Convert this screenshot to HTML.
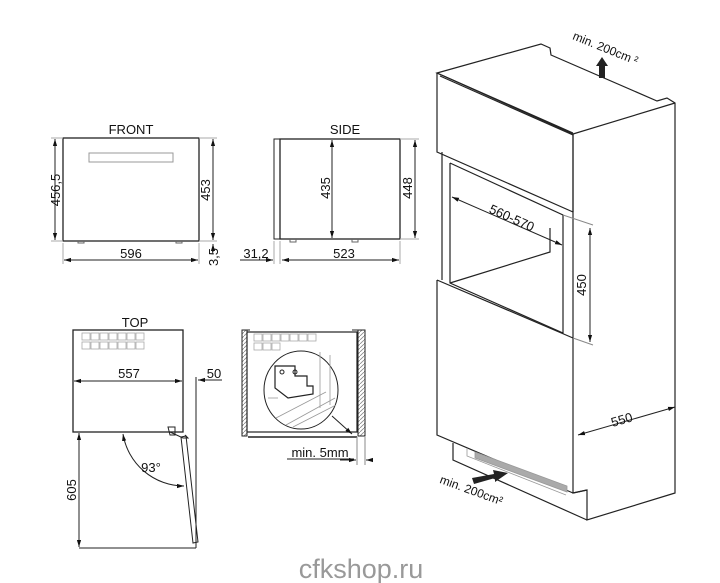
<!DOCTYPE html>
<html><head><meta charset="utf-8"><style>
html,body{margin:0;padding:0;background:#fff;}
svg{display:block;}
text{font-family:"Liberation Sans",Arial,sans-serif;fill:#111;}
</style></head><body>
<svg width="720" height="583" viewBox="0 0 720 583" xmlns="http://www.w3.org/2000/svg">
<defs>
<marker id="a" viewBox="0 0 10 10" refX="10" refY="5" markerWidth="7" markerHeight="7" orient="auto-start-reverse"><path d="M0,2 L10,5 L0,8 z" fill="#111"/></marker>
<pattern id="h" width="4" height="4" patternUnits="userSpaceOnUse"><path d="M0,4 L4,0" stroke="#888" stroke-width="0.8"/></pattern>
</defs>
<g fill="none" stroke="#222" stroke-width="1">
<!-- FRONT -->
<rect x="63" y="138" width="136" height="103" stroke-width="1.3"/>
<rect x="89" y="153" width="84" height="9" stroke="#999"/>
<path d="M78,241v2h6v-2 M176,241v2h6v-2" stroke="#666"/>
<line x1="55" y1="139" x2="55" y2="240" marker-start="url(#a)" marker-end="url(#a)"/>
<line x1="51" y1="138" x2="63" y2="138" stroke="#aaa"/><line x1="51" y1="241" x2="63" y2="241" stroke="#aaa"/>
<line x1="213" y1="139" x2="213" y2="240" marker-start="url(#a)" marker-end="url(#a)"/>
<line x1="199" y1="138" x2="217" y2="138" stroke="#aaa"/><line x1="199" y1="241" x2="217" y2="241" stroke="#aaa"/>
<line x1="213" y1="252" x2="213" y2="244" marker-end="url(#a)"/>
<line x1="64" y1="260" x2="198" y2="260" marker-start="url(#a)" marker-end="url(#a)"/>
<line x1="63" y1="243" x2="63" y2="264" stroke="#aaa"/><line x1="199" y1="243" x2="199" y2="264" stroke="#aaa"/>
<!-- SIDE -->
<rect x="280" y="139" width="120" height="100" stroke-width="1.3"/>
<rect x="274" y="139" width="6" height="100"/>
<path d="M290,239v3h6v-3 M352,239v3h6v-3" stroke="#666"/>
<line x1="332" y1="140" x2="332" y2="238" marker-start="url(#a)" marker-end="url(#a)"/>
<line x1="415" y1="140" x2="415" y2="238" marker-start="url(#a)" marker-end="url(#a)"/>
<line x1="400" y1="139" x2="419" y2="139" stroke="#aaa"/><line x1="400" y1="239" x2="419" y2="239" stroke="#aaa"/>
<line x1="282" y1="260" x2="399" y2="260" marker-start="url(#a)" marker-end="url(#a)"/>
<line x1="274" y1="241" x2="274" y2="264" stroke="#aaa"/><line x1="280" y1="241" x2="280" y2="264" stroke="#aaa"/><line x1="400" y1="241" x2="400" y2="264" stroke="#aaa"/>
<line x1="240" y1="260" x2="273" y2="260" marker-end="url(#a)"/>
<!-- TOP -->
<rect x="73" y="330" width="110" height="102" stroke-width="1.3"/>
<g stroke="#aaa" stroke-width="0.8">
<rect x="82" y="333" width="8" height="7"/><rect x="91" y="333" width="8" height="7"/><rect x="100" y="333" width="8" height="7"/><rect x="109" y="333" width="8" height="7"/><rect x="118" y="333" width="8" height="7"/><rect x="127" y="333" width="8" height="7"/><rect x="136" y="333" width="8" height="7"/>
<rect x="82" y="342" width="8" height="7"/><rect x="91" y="342" width="8" height="7"/><rect x="100" y="342" width="8" height="7"/><rect x="109" y="342" width="8" height="7"/><rect x="118" y="342" width="8" height="7"/><rect x="127" y="342" width="8" height="7"/><rect x="136" y="342" width="8" height="7"/>
</g>
<line x1="74" y1="381" x2="182" y2="381" marker-start="url(#a)" marker-end="url(#a)"/>
<line x1="196" y1="377" x2="196" y2="548"/>
<line x1="222" y1="380" x2="198" y2="380" marker-end="url(#a)"/>
<path d="M168,427h7v8h-5z M170,432 l13,6 h5 l-3,-3" />
<path d="M181,437 L186,436 L198,542 L193,543 Z"/>
<line x1="79" y1="433" x2="79" y2="547" marker-start="url(#a)" marker-end="url(#a)"/>
<line x1="79" y1="548" x2="196" y2="548"/>
<path d="M123,434 A62,62 0 0 0 184,486" marker-start="url(#a)" marker-end="url(#a)"/>
<!-- INSTALL DETAIL -->
<rect x="242" y="330" width="5" height="106" fill="url(#h)"/>
<rect x="358" y="330" width="7" height="106" fill="url(#h)"/>
<path d="M247,330h3 M352,330h6"/>
<rect x="247" y="332" width="110" height="100" stroke-width="1.2"/>
<line x1="248" y1="437" x2="357" y2="437" stroke-width="1.5"/>
<g stroke="#aaa" stroke-width="0.8">
<rect x="254" y="334" width="8" height="7"/><rect x="263" y="334" width="8" height="7"/><rect x="272" y="334" width="8" height="7"/><rect x="281" y="334" width="8" height="7"/><rect x="290" y="334" width="8" height="7"/><rect x="299" y="334" width="8" height="7"/><rect x="308" y="334" width="8" height="7"/>
<rect x="254" y="343" width="8" height="7"/><rect x="263" y="343" width="8" height="7"/><rect x="272" y="343" width="8" height="7"/>
</g>
<ellipse cx="301" cy="390" rx="37" ry="39" fill="#fff"/>
<g stroke="#999" stroke-width="0.8"><line x1="320" y1="352" x2="320" y2="408"/><line x1="330" y1="355" x2="330" y2="405"/><line x1="286" y1="425" x2="335" y2="398"/><line x1="276" y1="418" x2="326" y2="392"/><line x1="293" y1="427" x2="336" y2="405"/><line x1="268" y1="398" x2="278" y2="398"/></g>
<path d="M275,366 h20 v10 h12 v10 h6 v8 l-25,4 l-13,-10 z" stroke-width="1.2"/>
<circle cx="282" cy="372" r="2"/><circle cx="295" cy="372" r="2"/>
<line x1="332" y1="416" x2="352" y2="434" marker-end="url(#a)"/>
<line x1="287" y1="459" x2="354" y2="459"/>
<line x1="340" y1="460" x2="356" y2="460" marker-end="url(#a)"/>
<line x1="372" y1="460" x2="366" y2="460" marker-end="url(#a)"/>
<line x1="357" y1="437" x2="357" y2="465" stroke="#888"/><line x1="365" y1="437" x2="365" y2="465" stroke="#888"/>
<!-- CABINET -->
<g stroke-width="1.2">
<path d="M437,73 L541,44 L550,48 L551,55 L657,101 L667,98 L675,103 L675,493 L587,520 L587,490 L573,493 L573,134 Z" fill="#fff"/>
<path d="M573,134 L675,103"/>
<path d="M437,73 L573,133 M440,76 L573,135"/>
<path d="M437,73 L437,152 L573,212 M573,134 L573,212"/>
<path d="M442,152 L442,280 M450,163 L450,283 L563,333 L563,215 L450,163 M450,283 L550,252 L550,228"/>
<path d="M437,280 L437,435 L573,493 M437,280 L573,338"/>
<path d="M453,443 L453,460 L587,520 M587,490 L573,493"/>
<path d="M467,448 L467,456 L566,495" stroke="#999" stroke-width="0.8"/>
<path d="M475,452 L567,486 L567,492 L475,458 Z" fill="#aaa" stroke="#999" stroke-width="0.8"/>
</g>
<line x1="452" y1="197" x2="562" y2="245" marker-start="url(#a)" marker-end="url(#a)"/>
<line x1="590" y1="228" x2="590" y2="342" marker-start="url(#a)" marker-end="url(#a)"/>
<line x1="563" y1="215" x2="593" y2="225" stroke="#888"/><line x1="573" y1="338" x2="593" y2="345" stroke="#888"/>
<line x1="578" y1="435" x2="675" y2="407" marker-start="url(#a)" marker-end="url(#a)"/>
</g>
<path d="M599,78 L599,66 L596,66 L602,57 L608,66 L605,66 L605,78 Z" fill="#222"/>
<path d="M472,478 L494,474 L493,470 L508,473 L495,482 L495,478 L474,484 Z" fill="#222"/>
<!-- TEXT -->
<g font-size="13">
<text x="131" y="134" text-anchor="middle">FRONT</text>
<text x="345" y="134" text-anchor="middle">SIDE</text>
<text x="135" y="327" text-anchor="middle">TOP</text>
<text x="131" y="258" text-anchor="middle">596</text>
<text x="344" y="258" text-anchor="middle">523</text>
<text x="256" y="258" text-anchor="middle">31,2</text>
<text x="129" y="378" text-anchor="middle">557</text>
<text x="214" y="378" text-anchor="middle">50</text>
<text x="320" y="457" text-anchor="middle">min. 5mm</text>
<text x="60" y="190" text-anchor="middle" transform="rotate(-90 60 190)">456,5</text>
<text x="210" y="190" text-anchor="middle" transform="rotate(-90 210 190)">453</text>
<text x="218" y="257" text-anchor="middle" transform="rotate(-90 218 257)">3,5</text>
<text x="330" y="188" text-anchor="middle" transform="rotate(-90 330 188)">435</text>
<text x="412" y="188" text-anchor="middle" transform="rotate(-90 412 188)">448</text>
<text x="76" y="490" text-anchor="middle" transform="rotate(-90 76 490)">605</text>
<text x="151" y="472" text-anchor="middle">93°</text>
<text x="510" y="222" text-anchor="middle" transform="rotate(24 510 222)">560-570</text>
<text x="586" y="285" text-anchor="middle" transform="rotate(-90 586 285)">450</text>
<text x="623" y="424" text-anchor="middle" transform="rotate(-16 623 424)">550</text>
<text x="604" y="52" text-anchor="middle" font-size="12" transform="rotate(22 604 52)">min. 200cm ²</text>
<text x="470" y="494" text-anchor="middle" font-size="12" transform="rotate(20 470 494)">min. 200cm²</text>
</g>
<text x="361" y="578" text-anchor="middle" font-size="27" style="fill:#999">cfkshop.ru</text>
</svg>
</body></html>
